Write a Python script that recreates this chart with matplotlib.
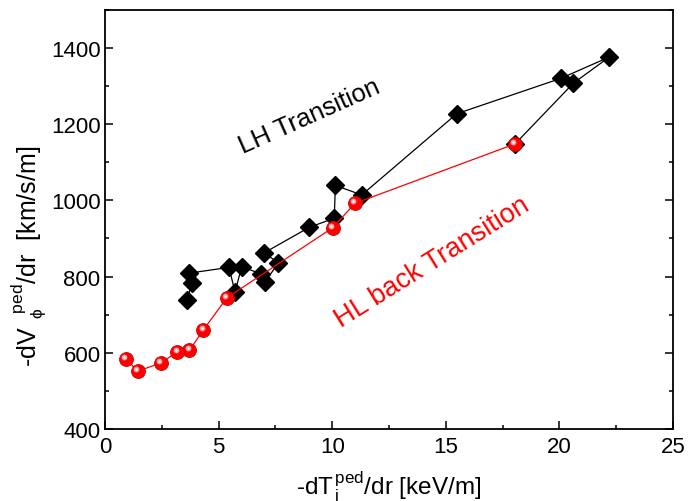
import matplotlib.pyplot as plt
from matplotlib.ticker import MultipleLocator
import matplotlib.transforms as mtransforms

plt.rcParams['font.family'] = 'Liberation Sans'
plt.rcParams['mathtext.fontset'] = 'custom'
plt.rcParams['mathtext.rm'] = 'Liberation Sans'
plt.rcParams['mathtext.it'] = 'Liberation Sans'

# LH transition (black diamonds), in the order the line joins them
lh_x = [3.62, 3.82, 3.71, 5.46, 5.72, 6.02, 6.85, 7.04, 7.63, 7.00, 8.99,
        10.09, 10.14, 11.30, 15.48, 20.07, 22.20, 20.61, 18.05]
lh_y = [739, 783, 809, 824, 759, 826, 807, 785, 836, 862, 929,
        953, 1039, 1014, 1227, 1320, 1376, 1307, 1148]

# HL back transition (red spheres)
hl_x = [18.05, 11.00, 10.02, 5.36, 4.33, 3.71, 3.18, 2.46, 1.44, 0.92]
hl_y = [1148, 992, 928, 744, 660, 606, 603, 573, 552, 584]

fig = plt.figure(figsize=(6.89, 5.02), dpi=100)
ax = fig.add_axes([0.1524, 0.1434, 0.8244, 0.8353])

ax.plot(lh_x, lh_y, color='black', lw=0.9, marker='D', ms=9,
        mfc='black', mec='black', zorder=3)
ax.plot(hl_x, hl_y, color='red', lw=0.9, marker='o', ms=10,
        mfc='red', mec='#d00000', mew=0.6, zorder=4)
# highlight on the spheres
shift = mtransforms.ScaledTranslation(-1.2 / 72, 1.5 / 72, fig.dpi_scale_trans)
ax.plot(hl_x, hl_y, ls='none', marker='o', ms=4.2, mfc='#ffb0b0', mec='none',
        alpha=0.9, transform=ax.transData + shift, zorder=5)
ax.plot(hl_x, hl_y, ls='none', marker='o', ms=1.8, mfc='white', mec='none',
        transform=ax.transData + shift, zorder=6)

ax.set_xlim(0, 25)
ax.set_ylim(400, 1500)
ax.xaxis.set_major_locator(MultipleLocator(5))
ax.xaxis.set_minor_locator(MultipleLocator(2.5))
ax.yaxis.set_major_locator(MultipleLocator(200))
ax.yaxis.set_minor_locator(MultipleLocator(100))
ax.tick_params(which='both', direction='in', right=True, top=False,
               labelsize=16, width=1.1)
ax.tick_params(axis='y', pad=3.2)
ax.tick_params(axis='x', pad=5)
ax.tick_params(which='major', length=6)
ax.tick_params(which='minor', length=3)
for s in ax.spines.values():
    s.set_linewidth(1.3)

ax.set_xlabel(r'-dT$_{\,i}^{\,\rm ped}$/dr [keV/m]', fontsize=17.5)
ax.set_ylabel(r'-dV$_{\ \ \phi}^{\ \ \ \rm ped}$/dr  [km/s/m]', fontsize=18)
ax.xaxis.set_label_coords(0.5, -0.093)
ax.yaxis.set_label_coords(-0.1, 0.415)

ax.text(9.0, 1222, 'LH Transition', fontsize=18.5, rotation=24,
        ha='center', va='center', rotation_mode='anchor')
ax.text(14.4, 840, 'HL back Transition', fontsize=19.5, rotation=32,
        color='red', ha='center', va='center', rotation_mode='anchor')

fig.savefig('out.png', dpi=100)
